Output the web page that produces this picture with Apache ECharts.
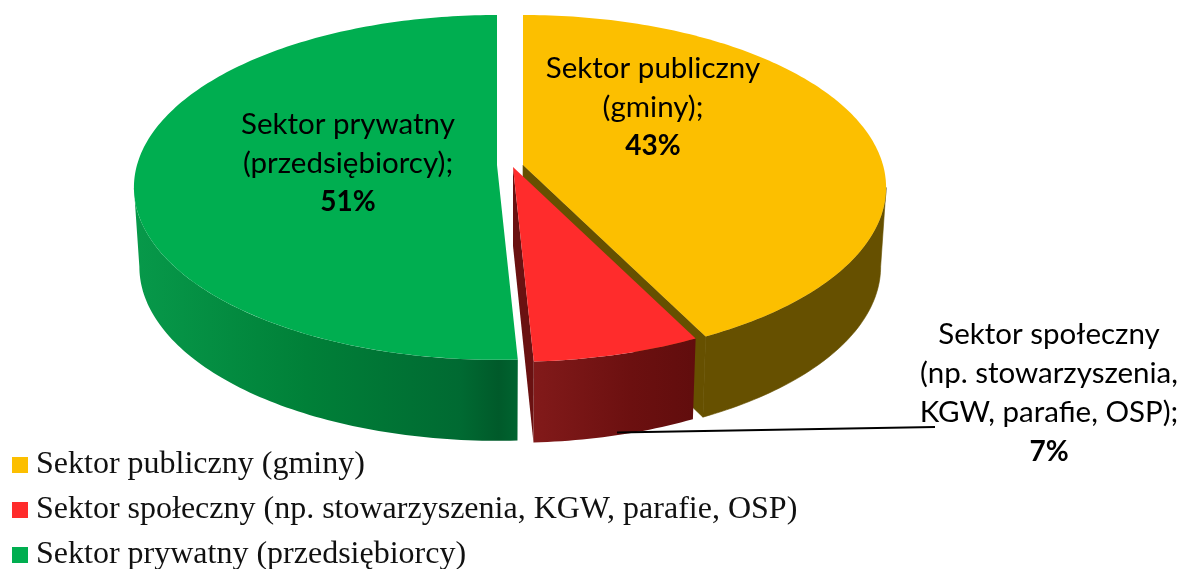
<!DOCTYPE html>
<html>
<head>
<meta charset="utf-8">
<style>
  html, body { margin: 0; padding: 0; background: #fff; }
  #main { width: 1182px; height: 569px; }
</style>
<script src="https://cdn.jsdelivr.net/npm/echarts@6/dist/echarts.min.js"></script>
</head>
<body>
<div id="main"></div>
<script>
const categories = [
  'Sektor publiczny (gminy)',
  'Sektor społeczny (np. stowarzyszenia, KGW, parafie, OSP)',
  'Sektor prywatny (przedsiębiorcy)'
]
const shares = [42.6, 6.6, 50.8]
const labelLines = [
  ['Sektor publiczny', '(gminy);'],
  ['Sektor społeczny', '(np. stowarzyszenia,', 'KGW, parafie, OSP);'],
  ['Sektor prywatny', '(przedsiębiorcy);']
]
const topColors = ['#fcbf00', '#ff2c2c', '#00ae50']

// exploded slice tips and label anchors, in pixels
const tips = [[523, 165], [513, 167], [497, 165]]
const labelAnchors = [[653, 107], [1049, 393], [348, 163]]

// fake 3d: circle seen in perspective, front is bigger than back
const RX = 360
const RY = 169.5
const PERSP = 0.13
const DEPTH = 79
// where the rim turns away from the viewer
const FRONT_FROM = Math.acos(-PERSP) * 180 / Math.PI
const FRONT_TO = 360 - FRONT_FROM

const total = shares.reduce((a, b) => a + b, 0)

function rimPoint (tip, deg, bottom) {
  const t = deg * Math.PI / 180
  const s = 1 / (1 + PERSP * Math.cos(t))
  const rx = bottom ? RX * 0.985 : RX
  const ry = bottom ? RY * 1.01 : RY
  return [
    tip[0] + rx * Math.sin(t) * s,
    tip[1] + (bottom ? DEPTH : 0) - ry * Math.cos(t) * s
  ]
}

function arc (tip, from, to, bottom) {
  const pts = []
  const n = Math.ceil(Math.abs(to - from))
  for (let i = 0; i <= n; i++) {
    pts.push(rimPoint(tip, from + (to - from) * i / n, bottom))
  }
  return pts
}

function sideFill (idx) {
  if (idx === 0) return '#665000'
  if (idx === 1) {
    return new echarts.graphic.LinearGradient(0, 0, 1, 0, [
      { offset: 0, color: '#821a1a' },
      { offset: 0.6, color: '#6c1010' },
      { offset: 1, color: '#610d0d' }
    ])
  }
  return new echarts.graphic.LinearGradient(0, 0, 1, 0, [
    { offset: 0, color: '#07994a' },
    { offset: 0.45, color: '#008038' },
    { offset: 0.85, color: '#006a32' },
    { offset: 0.95, color: '#005a2a' },
    { offset: 1, color: '#006430' }
  ])
}

function makeRender (idx) {
  return function (params, api) {
    const share = api.value(0)
    const before = shares.slice(0, idx).reduce((a, b) => a + b, 0)
    const from = before / total * 360
    const to = from + share / total * 360
    const tip = tips[idx]
    const tipLow = [tip[0], tip[1] + DEPTH]
    const children = []

    // outer wall, front part only
    const a = Math.max(from, FRONT_FROM)
    const b = Math.min(to, FRONT_TO)
    const wall = idx === 0
      ? { fill: '#665000', stroke: '#665000', lineWidth: 0.6 }
      : { fill: sideFill(idx) }
    children.push({
      type: 'polygon',
      shape: { points: arc(tip, a, b, false).concat(arc(tip, b, a, true)) },
      style: wall
    })
    // cut walls we can actually see
    if (idx === 0) {
      children.push({
        type: 'polygon',
        shape: { points: [tip, rimPoint(tip, to, false), rimPoint(tip, to, true), tipLow] },
        style: { fill: '#665000', stroke: '#665000', lineWidth: 0.6 }
      })
    }
    if (idx === 1) {
      children.push({
        type: 'polygon',
        shape: { points: [tip, rimPoint(tip, to, false), rimPoint(tip, to, true), tipLow] },
        style: { fill: '#6a1111' }
      })
    }
    // top face
    children.push({
      type: 'polygon',
      shape: { points: [tip].concat(arc(tip, from, to, false)) },
      style: { fill: topColors[idx] }
    })
    return { type: 'group', children: children }
  }
}

function makeLabels () {
  const children = [{
    type: 'line',
    shape: { x1: 617, y1: 432.5, x2: 935, y2: 427 },
    style: { stroke: '#000', lineWidth: 2 }
  }]
  labelLines.forEach((lines, i) => {
    const text = lines.map(l => '{n|' + l + '}').join('\n') +
      '\n{b|' + Math.round(shares[i]) + '%}'
    children.push({
      type: 'text',
      x: labelAnchors[i][0],
      y: labelAnchors[i][1],
      style: {
        text: text,
        align: 'center',
        verticalAlign: 'middle',
        rich: {
          n: { fontFamily: 'Lato', fontSize: 29.5, lineHeight: 39, fill: '#000', align: 'center' },
          b: { fontFamily: 'Lato', fontSize: 28, fontWeight: 'bold', lineHeight: 39, fill: '#000', align: 'center' }
        }
      }
    })
  })
  return children
}

const mychart = echarts.init(document.getElementById('main'), null, { renderer: 'canvas' })

const series = categories.map((name, i) => ({
  name: name,
  type: 'custom',
  coordinateSystem: 'none',
  silent: true,
  z: 2 + i,
  itemStyle: { color: topColors[i] },
  data: [[shares[i]]],
  renderItem: makeRender(i)
}))

mychart.setOption({
  animation: false,
  backgroundColor: '#fff',
  graphic: { elements: makeLabels().map(el => Object.assign({ z: 20 }, el)) },
  legend: {
    orient: 'vertical',
    left: 12,
    top: 449,
    height: 200,
    padding: 0,
    itemWidth: 16,
    itemHeight: 16,
    itemGap: 13,
    icon: 'rect',
    selectedMode: false,
    data: categories,
    textStyle: {
      fontFamily: 'Liberation Serif',
      fontSize: 32,
      lineHeight: 30,
      color: '#111',
      padding: [0, 0, 0, 3]
    }
  },
  series: series
})
</script>
</body>
</html>
